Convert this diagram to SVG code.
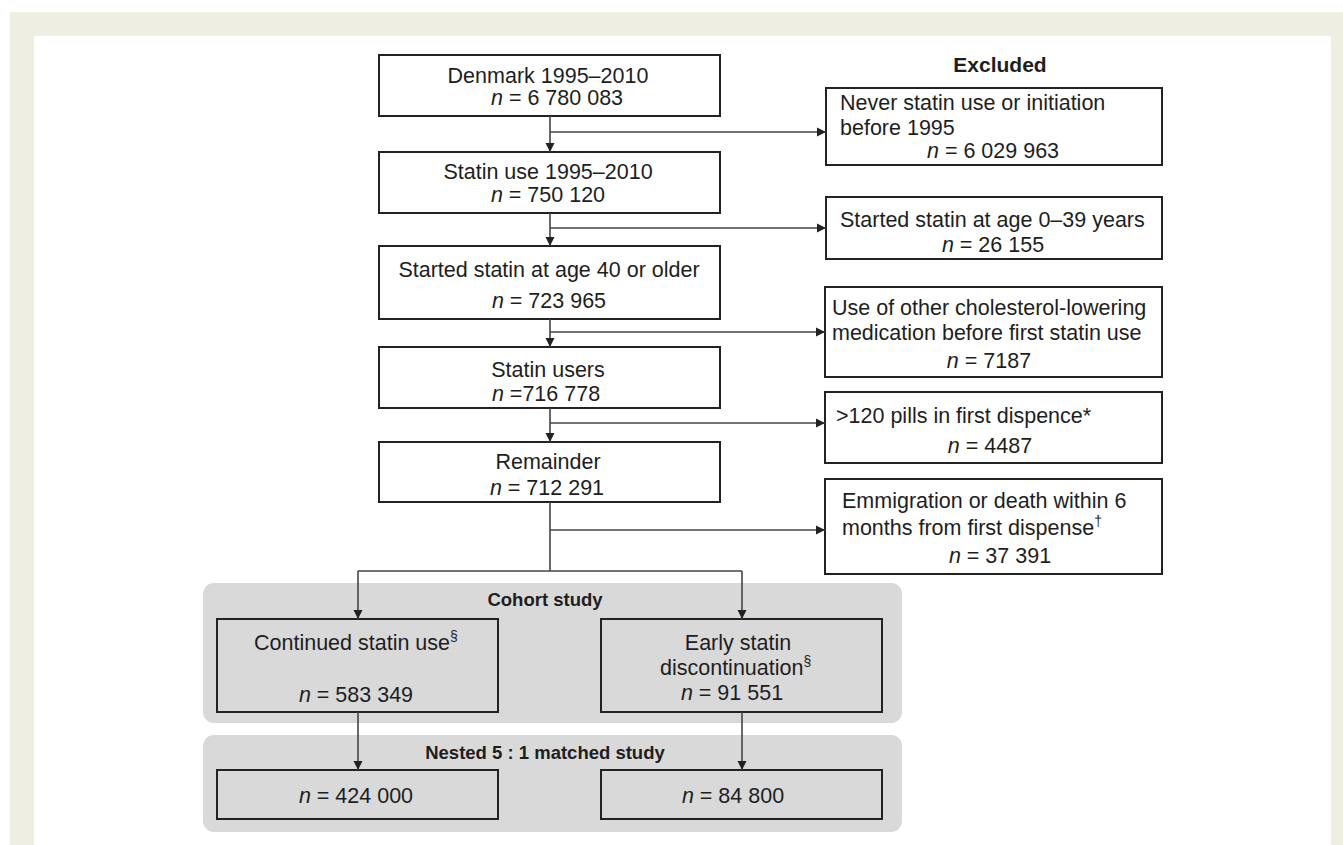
<svg xmlns="http://www.w3.org/2000/svg" width="1343" height="845" viewBox="0 0 1343 845">
<style>
.t{font-family:"Liberation Sans",Arial,sans-serif;font-size:21.5px;fill:#1e1e1e}
.c{text-anchor:middle}
.b{font-weight:bold}
.h{font-size:18.5px}
.box{fill:#fff;stroke:#222;stroke-width:2}
.gbox{fill:none;stroke:#222;stroke-width:2}
.grp{fill:#d9d9d9}
.ln{fill:none;stroke:#444;stroke-width:1.6}
.ar{marker-end:url(#arr)}
</style>
<defs>
<marker id="arr" viewBox="0 0 10 10" refX="10" refY="5" markerWidth="9" markerHeight="10" markerUnits="userSpaceOnUse" orient="auto">
<path d="M0,0 L10,5 L0,10 Z" fill="#222"/>
</marker>
</defs>
<rect x="0" y="0" width="1343" height="845" fill="#fff"/>
<path d="M10 12 H1343 V845 H10 Z M34 36 V845 H1331 V36 Z" fill="#efeee2" fill-rule="evenodd"/>

<g id="cohort-group">
<rect class="grp" x="203" y="583" width="699" height="140" rx="11"/>
<text class="t c b h" x="545" y="606">Cohort study</text>
</g>
<g id="nested-group">
<rect class="grp" x="203" y="735" width="699" height="97" rx="11"/>
<text class="t c b h" x="545" y="759">Nested 5 : 1 matched study</text>
</g>

<g id="n1">
<rect class="box" x="379" y="55" width="341" height="61"/>
<text class="t c" x="548" y="83">Denmark 1995–2010</text>
<text class="t c" x="557" y="105"><tspan font-style="italic">n</tspan> = 6 780 083</text>
</g>
<g id="n2">
<rect class="box" x="379" y="152" width="341" height="61"/>
<text class="t c" x="548" y="179">Statin use 1995–2010</text>
<text class="t c" x="548" y="202"><tspan font-style="italic">n</tspan> = 750 120</text>
</g>
<g id="n3">
<rect class="box" x="379" y="246" width="341" height="73"/>
<text class="t c" x="549" y="277">Started statin at age 40 or older</text>
<text class="t c" x="549" y="308"><tspan font-style="italic">n</tspan> = 723 965</text>
</g>
<g id="n4">
<rect class="box" x="379" y="347" width="341" height="61"/>
<text class="t c" x="548" y="377">Statin users</text>
<text class="t c" x="546" y="401"><tspan font-style="italic">n</tspan> =716 778</text>
</g>
<g id="n5">
<rect class="box" x="379" y="442" width="341" height="60"/>
<text class="t c" x="548" y="469">Remainder</text>
<text class="t c" x="547" y="495"><tspan font-style="italic">n</tspan> = 712 291</text>
</g>

<g id="excluded-title">
<text class="t c b" x="1000" y="72" style="font-size:21px">Excluded</text>
</g>
<g id="e1">
<rect class="box" x="826" y="88" width="336" height="77"/>
<text class="t" x="840" y="110">Never statin use or initiation</text>
<text class="t" x="840" y="135">before 1995</text>
<text class="t c" x="993" y="158"><tspan font-style="italic">n</tspan> = 6 029 963</text>
</g>
<g id="e2">
<rect class="box" x="826" y="197" width="336" height="62"/>
<text class="t" x="840" y="227">Started statin at age 0–39 years</text>
<text class="t c" x="993" y="252"><tspan font-style="italic">n</tspan> = 26 155</text>
</g>
<g id="e3">
<rect class="box" x="825" y="287" width="337" height="90"/>
<text class="t" x="832" y="315">Use of other cholesterol-lowering</text>
<text class="t" x="832" y="340">medication before first statin use</text>
<text class="t c" x="989" y="368"><tspan font-style="italic">n</tspan> = 7187</text>
</g>
<g id="e4">
<rect class="box" x="825" y="392" width="337" height="71"/>
<text class="t" x="836" y="423">&gt;120 pills in first dispence*</text>
<text class="t c" x="990" y="453"><tspan font-style="italic">n</tspan> = 4487</text>
</g>
<g id="e5">
<rect class="box" x="825" y="479" width="337" height="95"/>
<text class="t" x="842" y="508">Emmigration or death within 6</text>
<text class="t" x="842" y="535">months from first dispense<tspan font-size="14" dy="-9">†</tspan></text>
<text class="t c" x="1000" y="563"><tspan font-style="italic">n</tspan> = 37 391</text>
</g>

<g id="continued">
<rect class="gbox" x="217" y="619" width="281" height="93"/>
<text class="t" x="254" y="650">Continued statin use<tspan font-size="14" dy="-9">§</tspan></text>
<text class="t c" x="356" y="702"><tspan font-style="italic">n</tspan> = 583 349</text>
</g>
<g id="early">
<rect class="gbox" x="601" y="619" width="281" height="93"/>
<text class="t c" x="738" y="650">Early statin</text>
<text class="t" x="660" y="675">discontinuation<tspan font-size="14" dy="-9">§</tspan></text>
<text class="t c" x="732" y="700"><tspan font-style="italic">n</tspan> = 91 551</text>
</g>
<g id="matched-continued">
<rect class="gbox" x="217" y="770" width="281" height="49"/>
<text class="t c" x="356" y="803"><tspan font-style="italic">n</tspan> = 424 000</text>
</g>
<g id="matched-early">
<rect class="gbox" x="601" y="770" width="281" height="49"/>
<text class="t c" x="733" y="803"><tspan font-style="italic">n</tspan> = 84 800</text>
</g>

<g id="connectors">
<line class="ln ar" x1="550" y1="116" x2="550" y2="152"/>
<line class="ln ar" x1="550" y1="132" x2="826" y2="132"/>
<line class="ln ar" x1="550" y1="213" x2="550" y2="246"/>
<line class="ln ar" x1="550" y1="228" x2="826" y2="228"/>
<line class="ln ar" x1="550" y1="319" x2="550" y2="347"/>
<line class="ln ar" x1="550" y1="332" x2="825" y2="332"/>
<line class="ln ar" x1="550" y1="408" x2="550" y2="442"/>
<line class="ln ar" x1="550" y1="423" x2="825" y2="423"/>
<line class="ln" x1="550" y1="502" x2="550" y2="571"/>
<line class="ln ar" x1="550" y1="530" x2="825" y2="530"/>
<line class="ln" x1="358" y1="571" x2="742" y2="571"/>
<line class="ln ar" x1="358" y1="571" x2="358" y2="619"/>
<line class="ln ar" x1="742" y1="571" x2="742" y2="619"/>
<line class="ln ar" x1="358" y1="712" x2="358" y2="770"/>
<line class="ln ar" x1="742" y1="712" x2="742" y2="770"/>
</g>
</svg>
